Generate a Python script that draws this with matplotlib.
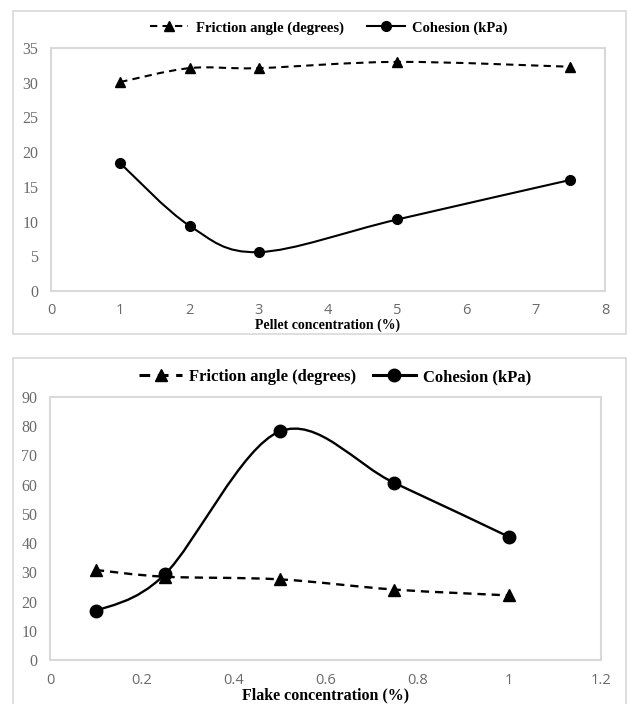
import numpy as np
import matplotlib
matplotlib.use("Agg")
import matplotlib.pyplot as plt
from matplotlib.path import Path
from matplotlib.patches import PathPatch, Rectangle
from matplotlib.lines import Line2D

# pellet panel data
pellet_x = [1, 2, 3, 5, 7.5]
pellet_friction = [30.1, 32.1, 32.1, 33.0, 32.3]
pellet_cohesion = [18.4, 9.4, 5.6, 10.3, 16.0]

# flake panel data
flake_x = [0.1, 0.25, 0.5, 0.75, 1.0]
flake_friction = [30.8, 28.5, 27.6, 24.1, 22.1]
flake_cohesion = [16.7, 29.3, 78.2, 60.6, 42.1]

GRAY = "#d9d9d9"
TICK_COLOR = "#6a6a6a"
SERIF = "Liberation Serif"


def smooth_path(x, y):
    # Excel-like smoothed line: cubic bezier through the data points
    pts = np.column_stack([x, y]).astype(float)
    n = len(pts)
    verts = [pts[0]]
    codes = [Path.MOVETO]
    for i in range(n - 1):
        p_prev = pts[i - 1] if i > 0 else pts[i]
        p_next2 = pts[i + 2] if i + 2 < n else pts[i + 1]
        c1 = pts[i] + (pts[i + 1] - p_prev) / 6.0
        c2 = pts[i + 1] - (p_next2 - pts[i]) / 6.0
        verts += [c1, c2, pts[i + 1]]
        codes += [Path.CURVE4] * 3
    return Path(verts, codes)


def draw_series(ax, x, y, ls, marker, ms, lw):
    patch = PathPatch(smooth_path(x, y), facecolor="none", edgecolor="black",
                      linestyle=ls, linewidth=lw, zorder=3)
    ax.add_patch(patch)
    ax.plot(x, y, linestyle="none", marker=marker, markersize=ms,
            color="black", zorder=4)


def style_axes(ax, xlim, xticks, xtlabels, ylim, yticks, xlabel, xl_size,
               tick_size, labelpad):
    ax.set_xlim(xlim)
    ax.set_ylim(ylim)
    ax.set_xticks(xticks)
    ax.set_xticklabels(xtlabels, family="Open Sans", color=TICK_COLOR,
                       fontsize=tick_size)
    ax.set_yticks(yticks)
    ax.set_yticklabels([str(v) for v in yticks], family=SERIF,
                       color=TICK_COLOR, fontsize=tick_size + 1)
    ax.tick_params(axis="y", length=0, pad=9)
    ax.tick_params(axis="x", length=0, pad=9)
    for s in ax.spines.values():
        s.set_color(GRAY)
        s.set_linewidth(1.5)
    ax.set_xlabel(xlabel, family=SERIF, fontweight="bold", fontsize=xl_size,
                  labelpad=labelpad)


fig = plt.figure(figsize=(6.28, 7.04), dpi=100)

# outer chart frames
fig.patches.append(Rectangle((13 / 628, 1 - 334 / 704), 613 / 628, 323 / 704,
                             transform=fig.transFigure, fill=False,
                             edgecolor=GRAY, linewidth=1.2))
fig.patches.append(Rectangle((13 / 628, -0.01), 613 / 628, 1 - 358 / 704 + 0.01,
                             transform=fig.transFigure, fill=False,
                             edgecolor=GRAY, linewidth=1.2))

# top panel: pellets
ax1 = fig.add_axes([51 / 628, 1 - 291 / 704, 554 / 628, 243 / 704])
draw_series(ax1, pellet_x, pellet_friction, (0, (3.5, 2.5)), "^", 7, 1.5)
draw_series(ax1, pellet_x, pellet_cohesion, "-", "o", 7, 1.5)
style_axes(ax1, (0, 8), range(0, 9), [str(v) for v in range(0, 9)],
           (0, 35), list(range(0, 36, 5)), "Pellet concentration (%)", 10,
           10.5, 0)

handles1 = [Line2D([], [], color="black", ls=(0, (3.5, 2.5)), marker="^", ms=7, lw=1.5),
            Line2D([], [], color="black", ls="-", marker="o", ms=7, lw=1.5)]
fig.legend(handles1, ["Friction angle (degrees)", "Cohesion (kPa)"],
           loc="center", bbox_to_anchor=(329 / 628, 1 - 28 / 704), ncol=2,
           frameon=False, handlelength=2.6, columnspacing=1.6, handletextpad=0.5,
           prop={"family": SERIF, "weight": "bold", "size": 10.5})

# bottom panel: flakes
ax2 = fig.add_axes([50 / 628, 1 - 660 / 704, 551 / 628, 263 / 704])
draw_series(ax2, flake_x, flake_friction, (0, (3.5, 2.5)), "^", 8, 1.7)
draw_series(ax2, flake_x, flake_cohesion, "-", "o", 9, 1.7)
flake_ticks = [0, 0.2, 0.4, 0.6, 0.8, 1.0, 1.2]
style_axes(ax2, (0, 1.2), flake_ticks, ["0", "0.2", "0.4", "0.6", "0.8", "1", "1.2"],
           (0, 90), list(range(0, 91, 10)), "Flake concentration (%)", 11.5,
           10.5, 0)

handles2 = [Line2D([], [], color="black", ls=(0, (3.5, 2.5)), marker="^", ms=8, lw=2.2),
            Line2D([], [], color="black", ls="-", marker="o", ms=9, lw=2.2)]
fig.legend(handles2, ["Friction angle (degrees)", "Cohesion (kPa)"],
           loc="center", bbox_to_anchor=(335 / 628, 1 - 377 / 704), ncol=2,
           frameon=False, handlelength=2.6, columnspacing=1.0, handletextpad=0.4,
           prop={"family": SERIF, "weight": "bold", "size": 12})

fig.savefig("out.png", dpi=100)
